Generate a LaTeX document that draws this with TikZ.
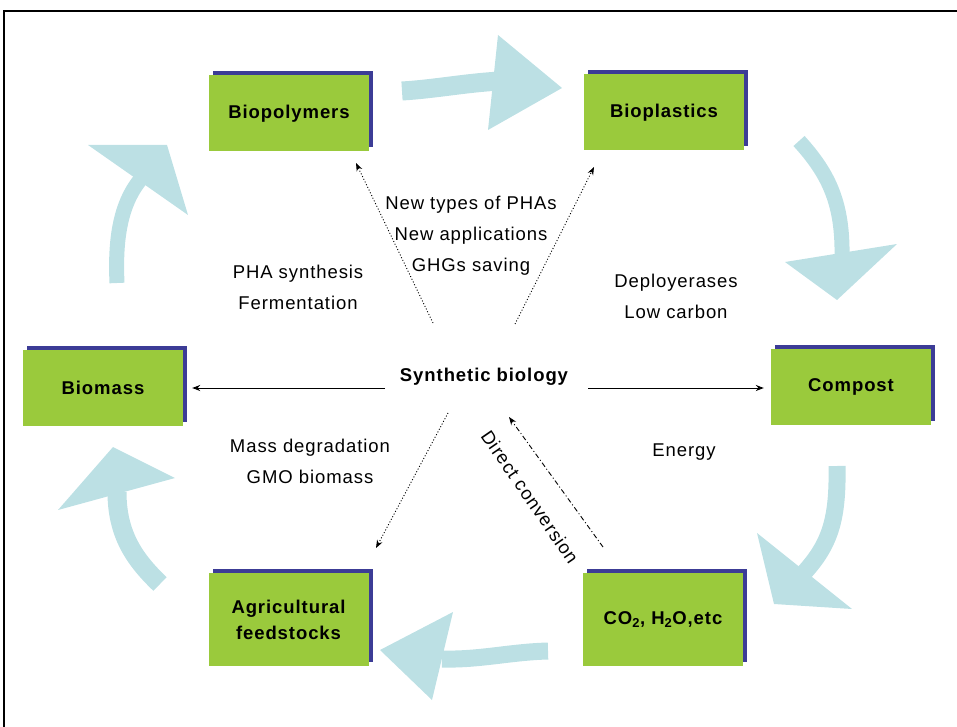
\documentclass[tikz,border=0pt]{standalone}
\usepackage{fontspec}
\setmainfont{Liberation Sans}[LetterSpace=5]
\usetikzlibrary{arrows.meta,shadows}
\definecolor{boxgreen}{RGB}{154,202,60}
\definecolor{shadowblue}{RGB}{60,60,150}
\definecolor{flowblue}{RGB}{188,224,228}
\begin{document}
\begin{tikzpicture}[x=1pt,y=-1pt,
  box/.style={fill=boxgreen, minimum width=160pt, minimum height=76pt, inner sep=0pt, align=center,
    font=\fontsize{18.5}{26}\selectfont\bfseries,
    general shadow={fill=shadowblue, shadow xshift=4pt, shadow yshift=4pt}},
  tallbox/.style={box, minimum height=93pt},
  lbl/.style={align=center, font=\fontsize{18.5}{31}\selectfont, inner sep=0pt},
  conn/.style={line width=0.9pt, -{Stealth[length=8pt,width=6pt]}},
  dots/.style={conn, dash pattern=on 1pt off 2pt},
  dashdot/.style={conn, dash pattern=on 5pt off 2.5pt on 1pt off 2.5pt},
  flow/.style={draw=flowblue, line width=18pt},
  flowhead/.style={fill=flowblue},
]
\useasboundingbox (0,0) rectangle (957,727);
% frame
\draw[line width=1.5pt] (4,727) -- (4,11) -- (957,11);

% big flow arrows
\draw[flow, line width=19pt] (402,91) .. controls (435,89) and (465,83) .. (500,81);
\fill[flowhead] (498,35) -- (562,88) -- (488,130) -- cycle;

\draw[flow, line width=15pt] (799,141) .. controls (830,175) and (843,205) .. (842,258);
\fill[flowhead] (785,262) -- (897,244) -- (837,300) -- cycle;

\draw[flow, line width=17pt] (837,466) .. controls (838,520) and (830,545) .. (802,575);
\fill[flowhead] (757,533) -- (852,609) -- (774,604) -- cycle;

\draw[flow, line width=17pt] (548,651) .. controls (510,652) and (480,660) .. (442,659);
\fill[flowhead] (453,612) -- (432,700) -- (380,650) -- cycle;

\draw[flow, line width=19pt] (160,584) .. controls (135,560) and (117,535) .. (117,492);
\fill[flowhead] (58,510) -- (175,478) -- (113,447) -- cycle;

\draw[flow, line width=15pt] (117,283) .. controls (115,240) and (120,205) .. (140,180);
\fill[flowhead] (88,145) -- (167,145) -- (188,215) -- cycle;

% boxes
\node[box] (biopoly) at (289,113.5) {Biopolymers};
\node[box] (bioplast) at (664,112.5) {Bioplastics};
\node[box] (biomass) at (103,388) {Biomass};
\node[box] (compost) at (851,387) {Compost};
\node[tallbox] (agri) at (288.5,619.5) {Agricultural\\feedstocks};
\node[tallbox] (co2) at (663,619.5) {CO\textsubscript{2}, H\textsubscript{2}O,etc};

% centre
\node[lbl, font=\fontsize{18.5}{26}\selectfont\bfseries] (sb) at (484,377) {Synthetic biology};

% labels
\node[lbl] (l1) at (471,236) {New types of PHAs\\New applications\\GHGs saving};
\node[lbl] (l2) at (298,287) {PHA synthesis\\Fermentation};
\node[lbl] (l3) at (676,296) {Deployerases\\Low carbon};
\node[lbl] (l4) at (310,461) {Mass degradation\\GMO biomass};
\node[lbl] (l5) at (684,452) {Energy};
\node[lbl, rotate=-55.5] (l6) at (530,497) {Direct conversion};

% connectors
\coordinate (sbL) at (385,388);
\coordinate (sbR) at (588,388);
\coordinate (sbUL) at (433,323);
\coordinate (sbUR) at (515,324);
\coordinate (sbDL) at (448,413);
\coordinate (sbDR) at (509,417);
\coordinate (tBiopoly) at (356,163);
\coordinate (tBioplast) at (594,167);
\coordinate (tAgri) at (376,548);
\coordinate (sCO2) at (603,547);

\draw[conn, shorten >=9pt] (sbL) -- (biomass.east |- sbL);
\draw[conn, shorten >=7pt] (sbR) -- (compost.west |- sbR);
\draw[dots] (sbUL) -- (tBiopoly);
\draw[dots] (sbUR) -- (tBioplast);
\draw[dots] (sbDL) -- (tAgri);
\draw[dashdot] (sCO2) -- (sbDR);
\end{tikzpicture}
\end{document}
